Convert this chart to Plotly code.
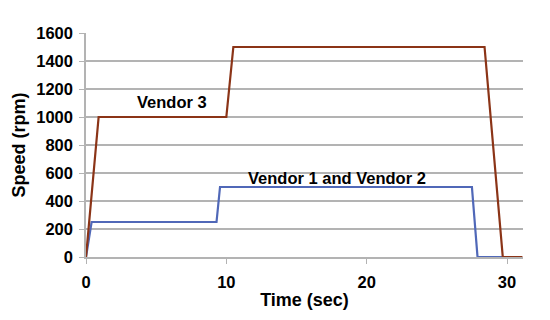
import plotly.graph_objects as go

# Vendor 3 speed profile (time in sec, speed in rpm)
v3_time = [0, 0.9, 10.0, 10.5, 28.4, 29.7, 31.1]
v3_speed = [0, 1000, 1000, 1500, 1500, 0, 0]

# Vendor 1 and Vendor 2 speed profile
v12_time = [0, 0.4, 9.3, 9.55, 27.5, 27.9, 29.7]
v12_speed = [0, 250, 250, 500, 500, 0, 0]

x_ticks = [0, 10, 20, 30]
y_ticks = [0, 200, 400, 600, 800, 1000, 1200, 1400, 1600]

FONT = "Liberation Sans, Arial, sans-serif"
GRID = "#b3b3b3"

fig = go.Figure()
fig.add_trace(go.Scatter(x=v12_time, y=v12_speed, mode="lines",
                         line=dict(color="#5068b8", width=2.2),
                         cliponaxis=False, name="Vendor 1 and Vendor 2"))
fig.add_trace(go.Scatter(x=v3_time, y=v3_speed, mode="lines",
                         line=dict(color="#8b3417", width=2.2),
                         cliponaxis=False, name="Vendor 3"))

fig.add_annotation(x=6.1, y=1110, text="Vendor 3", showarrow=False,
                   font=dict(family=FONT, size=16.5, color="black",
                             weight="bold"))
fig.add_annotation(x=17.9, y=565, text="Vendor 1 and Vendor 2",
                   showarrow=False,
                   font=dict(family=FONT, size=16.5, color="black",
                             weight="bold"))

# page body adds an 8px offset, so margins are shifted to compensate
fig.update_layout(
    width=550, height=320,
    margin=dict(l=78, r=35, t=25, b=71),
    paper_bgcolor="white", plot_bgcolor="white",
    showlegend=False,
    font=dict(family=FONT, color="black"),
)
fig.update_xaxes(
    range=[0, 31.14], tickvals=x_ticks, showgrid=False, zeroline=False,
    showline=True, linecolor=GRID, linewidth=1.5, automargin=False,
    ticks="outside", ticklen=5, tickcolor=GRID, ticklabelstandoff=4,
    tickfont=dict(family=FONT, size=16.5, weight="bold"),
    title=dict(text="Time (sec)", standoff=4,
               font=dict(family=FONT, size=18, weight="bold")),
)
fig.update_yaxes(
    range=[0, 1600], tickvals=y_ticks, showgrid=True, gridcolor=GRID,
    gridwidth=1.5, zeroline=False, automargin=False,
    showline=True, linecolor=GRID, linewidth=1.5,
    ticks="outside", ticklen=5, tickcolor=GRID, ticklabelstandoff=3,
    tickfont=dict(family=FONT, size=16.5, weight="bold"),
    title=dict(text="Speed (rpm)", standoff=6,
               font=dict(family=FONT, size=18, weight="bold")),
)

fig.write_html("out.html")
